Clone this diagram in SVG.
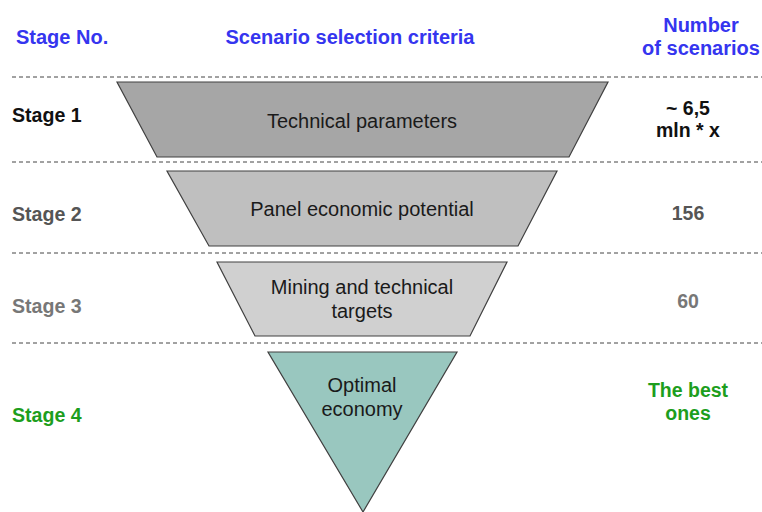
<svg xmlns="http://www.w3.org/2000/svg" width="762" height="512" viewBox="0 0 762 512">
<style>
text{font-family:"Liberation Sans",Arial,sans-serif}
.h{font-size:20px;font-weight:bold;fill:#3535ef}
.st{font-size:19.6px;font-weight:bold}
.lab{font-size:20px;fill:#1a1a1a;text-anchor:middle}
.num{font-size:19.5px;font-weight:bold;text-anchor:middle}
.sh{stroke:#404040;stroke-width:1.2}
.dash{stroke:#444;stroke-width:1;stroke-dasharray:4 3;fill:none}
</style>
<rect width="762" height="512" fill="#fff"/>
<g id="headers">
<text class="h" x="16" y="44">Stage No.</text>
<text class="h" x="350" y="44" text-anchor="middle">Scenario selection criteria</text>
<text class="h" x="701" y="32" text-anchor="middle">Number</text>
<text class="h" x="701" y="55" text-anchor="middle">of scenarios</text>
</g>
<g id="separators">
<line class="dash" x1="12" y1="77" x2="762" y2="77"/>
<line class="dash" x1="12" y1="162" x2="762" y2="162"/>
<line class="dash" x1="12" y1="253" x2="762" y2="253"/>
<line class="dash" x1="12" y1="343" x2="762" y2="343"/>
</g>
<g id="stage1">
<text class="st" x="12" y="122" fill="#111">Stage 1</text>
<polygon class="sh" points="117,82 608,82 569,157 157,157" fill="#a6a6a6"/>
<text class="lab" x="362" y="128">Technical parameters</text>
<text class="num" x="688" y="115" fill="#111">~ 6,5</text>
<text class="num" x="688" y="137" fill="#111">mln * x</text>
</g>
<g id="stage2">
<text class="st" x="12" y="221" fill="#555">Stage 2</text>
<polygon class="sh" points="167,171 557,171 518,246 209,246" fill="#bfbfbf"/>
<text class="lab" x="362" y="216">Panel economic potential</text>
<text class="num" x="688" y="220" fill="#555">156</text>
</g>
<g id="stage3">
<text class="st" x="12" y="313" fill="#777">Stage 3</text>
<polygon class="sh" points="217,262 507,262 470,336 255,336" fill="#d0d0d0"/>
<text class="lab" x="362" y="294">Mining and technical</text>
<text class="lab" x="362" y="318">targets</text>
<text class="num" x="688" y="308" fill="#777">60</text>
</g>
<g id="stage4">
<text class="st" x="12" y="422" fill="#1d9e1d">Stage 4</text>
<polygon class="sh" points="268,352 457,352 363,512" fill="#99c7bf"/>
<text class="lab" x="362" y="392">Optimal</text>
<text class="lab" x="362" y="416">economy</text>
<text class="num" x="688" y="397" fill="#1d9e1d">The best</text>
<text class="num" x="688" y="420" fill="#1d9e1d">ones</text>
</g>
</svg>
